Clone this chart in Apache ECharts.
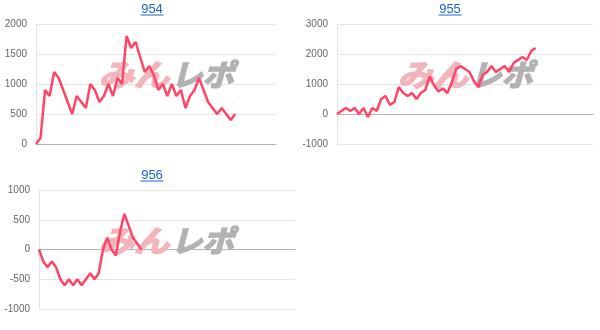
<!DOCTYPE html>
<html><head><meta charset="utf-8">
<script src="https://cdn.jsdelivr.net/npm/echarts@6/dist/echarts.min.js"></script>
<style>html,body{margin:0;padding:0;background:#fff}#c{width:600px;height:330px}</style>
</head><body><div id="c"></div><script>
// ---- data ----
const titles = ['954', '955', '956'];
const cats954 = [1,2,3,4,5,6,7,8,9,10,11,12,13,14,15,16,17,18,19,20,21,22,23,24,25,26,27,28,29,30,31,32,33,34,35,36,37,38,39,40,41,42,43,44,45,46,47,48,49,50,51,52,53,54];
const cats955 = [1,2,3,4,5,6,7,8,9,10,11,12,13,14,15,16,17,18,19,20,21,22,23,24,25,26,27,28,29,30,31,32,33,34,35,36,37,38,39,40,41,42,43,44,45,46,47,48,49,50,51,52,53,54,55,56,57,58,59];
const cats956 = [1,2,3,4,5,6,7,8,9,10,11,12,13,14,15,16,17,18,19,20,21,22,23,24,25,26,27,28,29,30,31,32,33,34,35,36,37,38,39,40,41,42,43,44,45,46,47,48,49,50,51,52,53,54,55,56,57,58,59,60,61];
const vals954 = [0,100,900,800,1200,1100,900,700,500,800,700,600,1000,900,700,800,1000,800,1100,1000,1800,1600,1700,1450,1200,1300,1150,900,1000,800,1000,800,900,600,800,900,1100,900,700,600,500,600,500,400,500];
const vals955 = [0,100,200,100,200,0,200,-100,200,100,500,600,300,400,900,700,600,700,500,700,800,1250,950,750,850,700,1050,1500,1600,1500,1400,1100,900,1300,1400,1600,1400,1500,1600,1400,1700,1800,1900,1800,2100,2200];
const vals956 = [0,-200,-300,-200,-300,-500,-600,-500,-600,-500,-600,-500,-400,-500,-400,0,200,0,-100,300,600,400,200,100,0];
const yTicks954 = {min: 0, max: 2000, interval: 500};
const yTicks955 = {min: -1000, max: 3000, interval: 1000};
const yTicks956 = {min: -1000, max: 1000, interval: 500};

// ---- layout ----
const panels = [
  {title: titles[0], cats: cats954, vals: vals954, y: yTicks954, left: 36, top: 24, width: 240, height: 120},
  {title: titles[1], cats: cats955, vals: vals955, y: yTicks955, left: 337, top: 24, width: 256, height: 120},
  {title: titles[2], cats: cats956, vals: vals956, y: yTicks956, left: 39, top: 190, width: 256, height: 119}
];
const titlePos = [[152, 9], [450, 9], [152, 175]];
const markPos = [[169, 75], [468, 75], [169, 241]];

const grid = [], xAxis = [], yAxis = [], series = [], graphic = [];
panels.forEach((p, i) => {
  grid.push({left: p.left, top: p.top, width: p.width, height: p.height, outerBoundsMode: 'none'});
  xAxis.push({
    type: 'category', gridIndex: i, data: p.cats, boundaryGap: false,
    axisLine: {show: true, onZero: true, lineStyle: {color: '#b4b4b4', width: 1}},
    axisTick: {show: false}, axisLabel: {show: false}, splitLine: {show: false}
  });
  yAxis.push({
    type: 'value', gridIndex: i, min: p.y.min, max: p.y.max, interval: p.y.interval,
    axisLine: {show: true, lineStyle: {color: '#e4e4e4'}},
    axisTick: {show: false},
    axisLabel: {color: '#666', fontSize: 10, fontFamily: 'Arial, "Liberation Sans"', margin: 9,
      formatter: v => String(v)},
    splitLine: {show: true, lineStyle: {color: '#e6e6e6', width: 1}}
  });
  series.push({
    type: 'line', xAxisIndex: i, yAxisIndex: i, data: p.vals,
    symbol: 'none', smooth: false, z: 5,
    lineStyle: {color: '#ff4466', width: 2.5}
  });
  const [tx, ty] = titlePos[i];
  graphic.push({
    type: 'text', x: tx, y: ty, z: 10,
    style: {text: p.title, fill: '#1a62d0', font: '13px Arial, "Liberation Sans"', textAlign: 'center', textVerticalAlign: 'middle'}
  });
  graphic.push({
    type: 'line', z: 10,
    shape: {x1: tx - 11.5, y1: ty + 6, x2: tx + 11.5, y2: ty + 6},
    style: {stroke: '#1a62d0', lineWidth: 1}
  });
  const [mx, my] = markPos[i];
  graphic.push({
    type: 'text', x: mx, y: my, z: 1, scaleX: 1.17,
    style: {text: 'みん', fill: '#f1b5bb', stroke: '#f1b5bb', lineWidth: 1.6,
      font: 'italic bold 30px "Noto Sans CJK JP"', textAlign: 'right', textVerticalAlign: 'middle'}
  });
  graphic.push({
    type: 'text', x: mx + 2, y: my, z: 1, scaleX: 1.05,
    style: {text: 'レポ', fill: '#b2b2b2', stroke: '#b2b2b2', lineWidth: 1.6,
      font: 'italic bold 30px "Noto Sans CJK JP"', textAlign: 'left', textVerticalAlign: 'middle'}
  });
});

const chart = echarts.init(document.getElementById('c'), null, {renderer: 'canvas'});
chart.setOption({
  backgroundColor: '#fff',
  animation: false,
  grid, xAxis, yAxis, series, graphic
});
</script></body></html>
